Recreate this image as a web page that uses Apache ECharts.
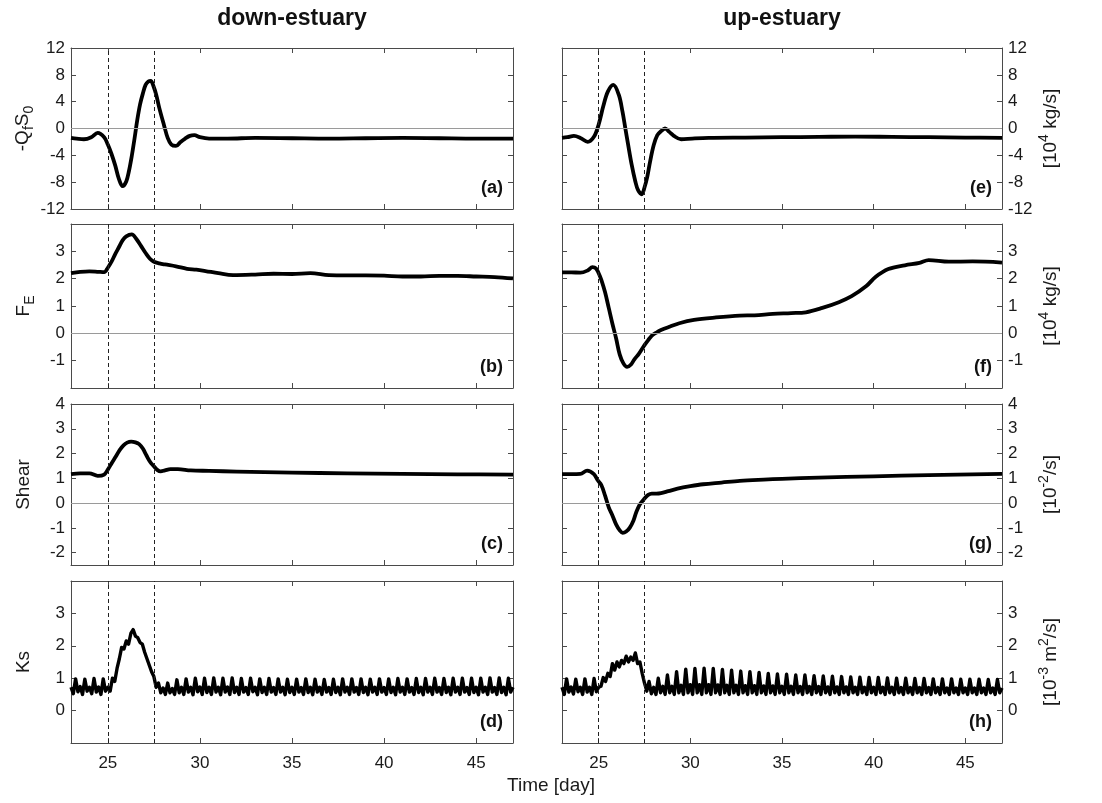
<!DOCTYPE html>
<html><head><meta charset="utf-8">
<script src="https://cdn.jsdelivr.net/npm/echarts@6/dist/echarts.min.js"></script>
<style>html,body{margin:0;padding:0;background:#fff}#c{width:1102px;height:803px}</style>
</head><body><div id="c"></div>
<script>
// ---------------- DATA ----------------
const X_TICKS = [25, 30, 35, 40, 45];
const EVENT_DAYS = [25, 27.5];
const Y_TICKS_Q = [-12, -8, -4, 0, 4, 8, 12];
const Y_TICKS_FE = [-1, 0, 1, 2, 3];
const Y_TICKS_SH = [-2, -1, 0, 1, 2, 3, 4];
const Y_TICKS_KS = [0, 1, 2, 3];

const TITLES = ['down-estuary', 'up-estuary'];
const PANEL_TAGS = ['(a)', '(b)', '(c)', '(d)', '(e)', '(f)', '(g)', '(h)'];
const LEFT_NAMES = ['-Q{s|f}S{s|0}', 'F{s|E}', 'Shear', 'Ks'];
const RIGHT_NAMES = ['[10{p|4} kg/s]', '[10{p|4} kg/s]', '[10{p|-2}/s]', '[10{p|-3} m{p|2}/s]'];
const X_NAME = 'Time [day]';

// (a) down-estuary -QfS0
const QA_T = [23, 23.3, 23.7, 24.1, 24.45, 24.8, 25.0, 25.2, 25.4, 25.6, 25.8, 26.0, 26.15, 26.3, 26.45, 26.6, 26.75, 26.9, 27.05, 27.2, 27.33, 27.48, 27.63, 27.8, 28.05, 28.25, 28.45, 28.7, 28.95, 29.2, 29.45, 29.7, 30.0, 30.5, 31.5, 33, 35, 37, 39, 41, 43, 45, 47];
const QA_V = [-1.4, -1.5, -1.6, -1.3, -0.65, -1.3, -2.4, -3.8, -5.5, -7.5, -8.6, -7.9, -6.3, -4.1, -1.5, 1.3, 3.6, 5.2, 6.5, 7.0, 7.1, 6.3, 5.0, 3.0, 0.5, -1.4, -2.4, -2.6, -2.0, -1.5, -1.1, -1.0, -1.3, -1.5, -1.5, -1.4, -1.45, -1.5, -1.45, -1.4, -1.45, -1.5, -1.5];
// (e) up-estuary -QfS0
const QE_T = [23, 23.3, 23.65, 24.0, 24.4, 24.75, 25.0, 25.25, 25.5, 25.8, 26.1, 26.3, 26.45, 26.6, 26.8, 27.0, 27.15, 27.35, 27.5, 27.65, 27.8, 28.0, 28.2, 28.4, 28.62, 28.85, 29.1, 29.5, 30.1, 31, 33, 35, 37, 39, 41, 43, 45, 47];
const QE_V = [-1.4, -1.3, -1.1, -1.4, -2.0, -1.2, 0.6, 3.3, 5.5, 6.5, 5.0, 2.5, 0.1, -2.3, -5.4, -7.9, -9.2, -9.8, -8.8, -7.2, -5.0, -2.5, -1.0, -0.4, 0.0, -0.5, -1.1, -1.6, -1.5, -1.4, -1.35, -1.3, -1.25, -1.2, -1.25, -1.3, -1.35, -1.4];
// (b) down-estuary FE
const FB_T = [23, 23.5, 24.0, 24.5, 24.8, 25.0, 25.2, 25.4, 25.6, 25.8, 26.0, 26.3, 26.55, 26.8, 27.05, 27.3, 27.5, 27.8, 28.1, 28.7, 29.3, 29.8, 30.3, 31.0, 31.8, 33.0, 34.0, 35.0, 36.0, 37.0, 38.0, 39.0, 40.0, 41.0, 42.0, 43.0, 44.0, 45.0, 46.0, 47.0];
const FB_V = [2.2, 2.25, 2.27, 2.25, 2.24, 2.4, 2.62, 2.9, 3.15, 3.4, 3.55, 3.62, 3.45, 3.2, 2.94, 2.72, 2.62, 2.56, 2.52, 2.45, 2.36, 2.33, 2.28, 2.2, 2.13, 2.15, 2.18, 2.17, 2.2, 2.13, 2.12, 2.12, 2.11, 2.08, 2.08, 2.1, 2.1, 2.08, 2.06, 2.01];
// (f) up-estuary FE
const FF_T = [23, 23.5, 24.0, 24.4, 24.66, 24.85, 25.0, 25.15, 25.35, 25.55, 25.75, 25.95, 26.15, 26.35, 26.55, 26.75, 26.95, 27.2, 27.5, 27.7, 27.9, 28.15, 28.4, 28.9, 29.4, 30.2, 31.4, 32.7, 33.5, 34.5, 35.5, 36.3, 37.2, 38.1, 38.8, 39.6, 40.1, 40.8, 41.7, 42.5, 43.0, 44.1, 45.4, 47];
const FF_V = [2.23, 2.23, 2.22, 2.3, 2.42, 2.38, 2.2, 1.95, 1.5, 0.93, 0.35, -0.18, -0.78, -1.1, -1.23, -1.15, -0.95, -0.74, -0.43, -0.25, -0.08, 0.03, 0.12, 0.25, 0.37, 0.49, 0.58, 0.65, 0.66, 0.71, 0.74, 0.77, 0.93, 1.14, 1.36, 1.73, 2.06, 2.35, 2.49, 2.58, 2.68, 2.62, 2.63, 2.59];
// (c) down-estuary Shear
const SC_T = [23, 23.5, 24.0, 24.45, 24.8, 25.0, 25.2, 25.45, 25.65, 25.85, 26.05, 26.27, 26.5, 26.7, 26.9, 27.1, 27.3, 27.5, 27.7, 27.87, 28.1, 28.4, 28.8, 29.5, 30.5, 32, 35, 38, 41, 44, 47];
const SC_V = [1.17, 1.2, 1.2, 1.1, 1.15, 1.35, 1.6, 1.9, 2.15, 2.33, 2.44, 2.48, 2.45, 2.38, 2.2, 1.92, 1.66, 1.49, 1.33, 1.28, 1.32, 1.37, 1.37, 1.32, 1.3, 1.27, 1.23, 1.2, 1.18, 1.16, 1.15];
// (g) up-estuary Shear
const SG_T = [23, 23.5, 24.0, 24.37, 24.74, 24.95, 25.15, 25.35, 25.55, 25.75, 25.95, 26.15, 26.31, 26.5, 26.7, 26.9, 27.05, 27.25, 27.5, 27.7, 27.9, 28.15, 28.4, 28.8, 29.3, 30, 30.7, 31.7, 32.7, 34, 35, 37, 40, 43, 47];
const SG_V = [1.17, 1.17, 1.18, 1.31, 1.17, 0.92, 0.72, 0.3, -0.17, -0.5, -0.86, -1.1, -1.2, -1.15, -0.99, -0.7, -0.37, -0.05, 0.18, 0.33, 0.38, 0.38, 0.4, 0.48, 0.58, 0.68, 0.76, 0.83, 0.9, 0.95, 0.98, 1.03, 1.08, 1.13, 1.18];
// Ks sampled every 0.125 day from day 23 (one row = one day)
const KS_T0 = 23, KS_DT = 0.125;
const KS_D = [
  0.72,0.52,0.98,0.58,0.74,0.50,0.97,0.60, // 23
  0.72,0.52,0.99,0.57,0.73,0.50,0.98,0.60, // 24
  0.72,0.60,1.00,0.90,1.30,1.60,1.95,1.90, // 25
  2.15,2.05,2.38,2.50,2.30,2.25,2.10,2.05, // 26
  1.80,1.60,1.40,1.20,1.05,0.72,0.85,0.55, // 27
  0.70,0.50,0.85,0.55,0.68,0.50,0.95,0.55, // 28
  0.72,0.50,0.98,0.57,0.72,0.49,1.00,0.58, // 29
  0.73,0.50,1.00,0.56,0.72,0.50,1.01,0.57, // 30
  0.72,0.49,1.00,0.57,0.73,0.50,1.01,0.56, // 31
  0.72,0.50,0.99,0.57,0.71,0.50,1.00,0.58, // 32
  0.72,0.49,0.98,0.56,0.72,0.50,0.99,0.57, // 33
  0.71,0.50,0.98,0.57,0.72,0.49,0.97,0.56, // 34
  0.72,0.50,0.97,0.57,0.71,0.50,0.98,0.56, // 35
  0.72,0.49,0.97,0.57,0.72,0.50,0.96,0.57, // 36
  0.71,0.50,0.97,0.56,0.72,0.49,0.98,0.57, // 37
  0.72,0.50,0.98,0.57,0.71,0.50,0.98,0.56, // 38
  0.72,0.49,0.97,0.57,0.72,0.50,0.98,0.57, // 39
  0.71,0.50,0.98,0.56,0.72,0.49,0.99,0.57, // 40
  0.72,0.50,0.98,0.57,0.71,0.50,0.99,0.56, // 41
  0.72,0.49,0.99,0.57,0.72,0.50,1.00,0.57, // 42
  0.71,0.50,0.99,0.56,0.72,0.49,1.00,0.57, // 43
  0.72,0.50,1.00,0.57,0.71,0.50,1.00,0.56, // 44
  0.72,0.49,1.00,0.57,0.72,0.50,1.01,0.57, // 45
  0.71,0.50,1.01,0.56,0.72,0.49,1.00,0.57, // 46
  0.72                                     // 47
];
const KS_H = [
  0.72,0.50,0.98,0.57,0.73,0.51,0.97,0.58, // 23
  0.72,0.50,0.98,0.57,0.72,0.50,0.99,0.58, // 24
  0.72,0.75,1.02,0.90,1.15,1.05,1.45,1.25, // 25
  1.50,1.35,1.55,1.45,1.68,1.50,1.65,1.55, // 26
  1.78,1.45,1.50,1.15,0.85,0.60,0.90,0.52, // 27
  0.72,0.50,1.00,0.55,0.75,0.50,1.10,0.55, // 28
  0.75,0.50,1.20,0.55,0.78,0.50,1.28,0.55, // 29
  0.80,0.50,1.30,0.55,0.80,0.50,1.31,0.55, // 30
  0.80,0.50,1.30,0.55,0.79,0.50,1.27,0.55, // 31
  0.78,0.50,1.25,0.55,0.78,0.50,1.22,0.55, // 32
  0.77,0.50,1.20,0.55,0.77,0.50,1.18,0.55, // 33
  0.76,0.50,1.15,0.55,0.76,0.50,1.13,0.55, // 34
  0.75,0.50,1.12,0.55,0.75,0.50,1.10,0.55, // 35
  0.74,0.50,1.10,0.55,0.74,0.50,1.08,0.55, // 36
  0.74,0.50,1.07,0.55,0.73,0.50,1.06,0.55, // 37
  0.73,0.50,1.05,0.55,0.73,0.50,1.04,0.55, // 38
  0.72,0.50,1.03,0.55,0.72,0.50,1.02,0.55, // 39
  0.72,0.50,1.02,0.55,0.72,0.50,1.01,0.55, // 40
  0.72,0.50,1.00,0.55,0.71,0.50,1.00,0.55, // 41
  0.71,0.50,0.99,0.55,0.71,0.50,0.99,0.55, // 42
  0.71,0.50,0.98,0.55,0.71,0.50,0.98,0.55, // 43
  0.70,0.50,0.98,0.55,0.70,0.50,0.97,0.55, // 44
  0.70,0.50,0.97,0.55,0.70,0.50,0.97,0.55, // 45
  0.70,0.50,0.96,0.55,0.70,0.50,0.96,0.55, // 46
  0.70                                     // 47
];

// ---------------- BUILD ----------------
const FONT = "'Liberation Sans', Arial, Helvetica, sans-serif";
const FRAME = '#4a4a4a';
const COLS = [{ left: 71, width: 442 }, { left: 562, width: 440 }];
const ROWS = [{ top: 48, height: 161 }, { top: 224, height: 164 }, { top: 404, height: 161 }, { top: 581, height: 162 }];
const ROW_Y = [
  { min: -12, max: 12, ticks: Y_TICKS_Q, zero: true },
  { min: -2, max: 4, ticks: Y_TICKS_FE, zero: true },
  { min: -2.5, max: 4, ticks: Y_TICKS_SH, zero: true },
  { min: -1, max: 4, ticks: Y_TICKS_KS, zero: false }
];
const zip = (t, v) => t.map((x, i) => [x, v[i]]);
const ksPairs = v => v.map((y, i) => [KS_T0 + i * KS_DT, y]);
const PANEL_DATA = [
  { d: zip(QA_T, QA_V), smooth: 0.35 }, { d: zip(FB_T, FB_V), smooth: 0.35 },
  { d: zip(SC_T, SC_V), smooth: 0.35 }, { d: ksPairs(KS_D), smooth: false },
  { d: zip(QE_T, QE_V), smooth: 0.35 }, { d: zip(FF_T, FF_V), smooth: 0.35 },
  { d: zip(SG_T, SG_V), smooth: 0.35 }, { d: ksPairs(KS_H), smooth: false }
];

const grids = [], xAxes = [], yAxes = [], series = [], graphics = [];
const axisLine = { show: true, onZero: false, lineStyle: { color: FRAME, width: 1 } };
const labelStyle = { fontSize: 17, color: '#1a1a1a', fontFamily: FONT };
const nameStyle = {
  fontSize: 19, color: '#1a1a1a', fontFamily: FONT, lineHeight: 27,
  rich: {
    s: { fontSize: 14, fontFamily: FONT, color: '#1a1a1a', verticalAlign: 'bottom', lineHeight: 14 },
    p: { fontSize: 14, fontFamily: FONT, color: '#1a1a1a', verticalAlign: 'top', lineHeight: 14 }
  }
};

for (let k = 0; k < 8; k++) {
  const col = k < 4 ? 0 : 1, row = k % 4;
  const C = COLS[col], R = ROWS[row], Y = ROW_Y[row];
  grids.push({ left: C.left, top: R.top, width: C.width, height: R.height });
  const tick = vals => ({ show: true, inside: true, length: 5, customValues: vals, lineStyle: { color: FRAME, width: 1 } });
  xAxes.push({
    gridIndex: k, type: 'value', min: 23, max: 47, position: 'bottom',
    axisLine, axisTick: tick(X_TICKS), splitLine: { show: false },
    axisLabel: Object.assign({ show: row === 3, customValues: X_TICKS, margin: 12 }, labelStyle)
  });
  xAxes.push({
    gridIndex: k, type: 'value', min: 23, max: 47, position: 'top',
    axisLine, axisTick: tick(X_TICKS), splitLine: { show: false }, axisLabel: { show: false }
  });
  const mainPos = col === 0 ? 'left' : 'right';
  yAxes.push({
    gridIndex: k, type: 'value', min: Y.min, max: Y.max, position: mainPos,
    axisLine, axisTick: tick(Y.ticks), splitLine: { show: false },
    axisLabel: Object.assign({ customValues: Y.ticks, margin: 6 }, labelStyle),
    name: col === 0 ? LEFT_NAMES[row] : RIGHT_NAMES[row],
    nameLocation: 'middle', nameRotate: 90, nameGap: col === 0 ? 34 : 35,
    nameTextStyle: nameStyle
  });
  yAxes.push({
    gridIndex: k, type: 'value', min: Y.min, max: Y.max, position: col === 0 ? 'right' : 'left',
    axisLine, axisTick: tick(Y.ticks), splitLine: { show: false }, axisLabel: { show: false }
  });
  const ml = EVENT_DAYS.map(d => ({ xAxis: d, lineStyle: { color: '#222', width: 1, type: [4, 3] } }));
  if (Y.zero) ml.push({ yAxis: 0, lineStyle: { color: '#9a9a9a', width: 1, type: 'solid' } });
  series.push({
    type: 'line', xAxisIndex: 2 * k, yAxisIndex: 2 * k, data: [], z: 1, silent: true,
    markLine: { silent: true, symbol: 'none', label: { show: false }, animation: false, data: ml }
  });
  const P = PANEL_DATA[k];
  series.push({
    type: 'line', xAxisIndex: 2 * k, yAxisIndex: 2 * k, data: P.d, z: 3,
    symbol: 'none', smooth: P.smooth, animation: false,
    lineStyle: { color: '#000', width: row === 3 ? 3.4 : 3.8, join: 'round' }
  });
  graphics.push({
    type: 'text', x: C.left + C.width - 10, y: R.top + R.height - 12,
    style: { text: PANEL_TAGS[k], font: 'bold 18px ' + FONT, fill: '#111', textAlign: 'right', textVerticalAlign: 'bottom' }
  });
}
TITLES.forEach((t, i) => {
  graphics.push({
    type: 'text', x: COLS[i].left + COLS[i].width / 2, y: 19,
    style: { text: t, font: 'bold 23px ' + FONT, fill: '#111', textAlign: 'center', textVerticalAlign: 'middle' }
  });
});
graphics.push({
  type: 'text', x: 551, y: 786,
  style: { text: X_NAME, font: '19px ' + FONT, fill: '#1a1a1a', textAlign: 'center', textVerticalAlign: 'middle' }
});

const chart = echarts.init(document.getElementById('c'), null, { renderer: 'canvas' });
chart.setOption({
  animation: false, backgroundColor: '#fff',
  grid: grids, xAxis: xAxes, yAxis: yAxes, series, graphic: graphics
});
</script></body></html>
